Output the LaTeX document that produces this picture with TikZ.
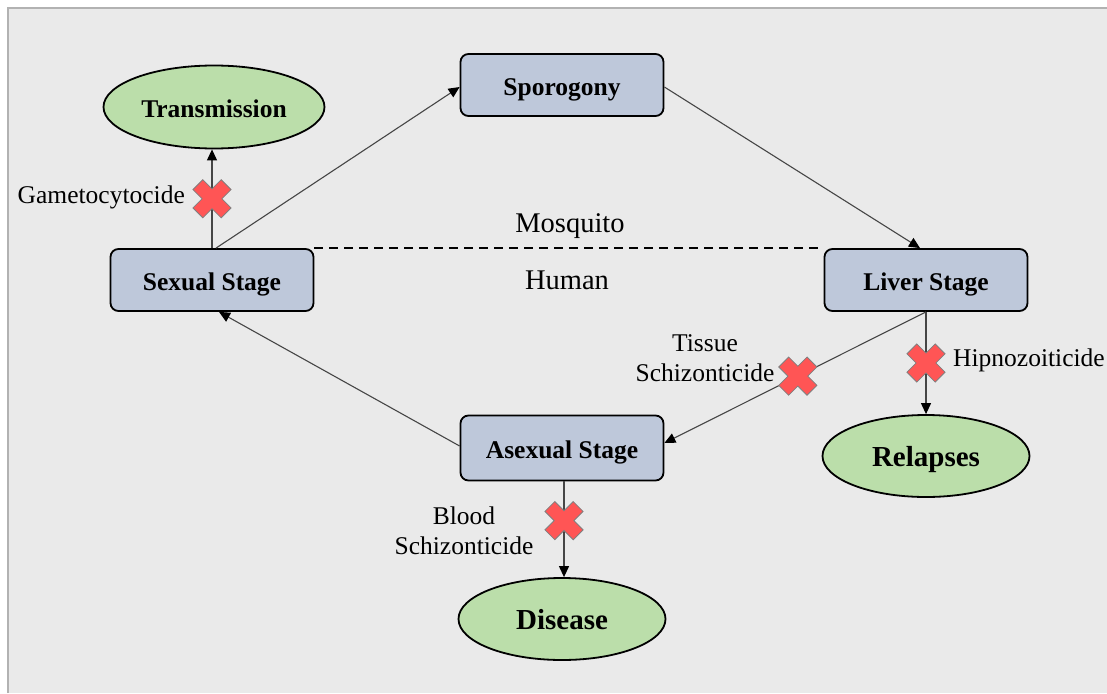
\documentclass[tikz,border=0pt]{standalone}
\usepackage{fontspec}
\setmainfont{Liberation Serif}
\usetikzlibrary{arrows.meta,shapes.geometric,calc}
\definecolor{bg}{RGB}{234,234,234}
\definecolor{boxfill}{RGB}{190,200,218}
\definecolor{ellfill}{RGB}{187,222,170}
\definecolor{xred}{RGB}{255,85,85}
\definecolor{lin}{RGB}{70,70,70}
\tikzset{
  stagebox/.style={draw=black,line width=1.8pt,rounded corners=8pt,fill=boxfill,
    minimum width=203pt,minimum height=62pt,inner sep=0pt,text height=24pt,text depth=4pt,
    font=\fontsize{25.5}{30}\selectfont\bfseries},
  outcome/.style={ellipse,draw=black,line width=1.8pt,fill=ellfill,inner sep=0pt,
    text height=25pt,text depth=4pt,
    minimum width=207pt,minimum height=82pt,font=\fontsize{29}{34}\selectfont\bfseries},
  conn/.style={draw=lin,line width=1.1pt,-{Triangle[length=11pt,width=10pt,color=black]}},
  lbl/.style={inner sep=0pt,font=\fontsize{25.5}{30}\selectfont},
  bigl/.style={inner sep=0pt,font=\fontsize{28.5}{34}\selectfont},
  xmark/.pic={\filldraw[fill=xred,draw=gray,line width=0.8pt,rotate=45]
    (7,20)--(7,7)--(20,7)--(20,-7)--(7,-7)--(7,-20)--(-7,-20)--(-7,-7)--(-20,-7)--(-20,7)--(-7,7)--(-7,20)--cycle;}
}
\begin{document}
\begin{tikzpicture}[x=1pt,y=-1pt]
\useasboundingbox (0,0) rectangle (1107,693);
\fill[bg] (8,8) rectangle (1107,693);
\draw[gray!60,line width=1.2pt] (8,693) -- (8,8) -- (1107,8);

% nodes
\node[stagebox] (sporo) at (562,85) {Sporogony};
\node[stagebox] (sexual) at (212,280) {Sexual Stage};
\node[stagebox] (liver) at (926,280) {Liver Stage};
\node[stagebox,minimum height=65pt] (asexual) at (562,448) {Asexual Stage};
\node[outcome,minimum width=221pt,minimum height=83pt,text height=23pt,text depth=3pt,font=\fontsize{25.5}{30}\selectfont\bfseries] (trans) at (214,107) {Transmission};
\node[outcome] (relapses) at (926,456) {Relapses};
\node[outcome,text height=24pt] (disease) at (562,619) {Disease};

% labels
\node[lbl,anchor=east] (gam) at (185,197) {Gametocytocide};
\node[bigl] (mosq) at (570,226) {Mosquito};
\node[bigl] (hum) at (567,280) {Human};
\node[lbl,align=center] (tis) at (705,358) {Tissue\\Schizonticide};
\node[lbl,anchor=west] (hip) at (953,360) {Hipnozoiticide};
\node[lbl,align=center] (blood) at (464,531) {Blood\\Schizonticide};

% connectors
\draw[dashed,dash pattern=on 9pt off 6pt,line width=1.5pt] (sexual.north east) -- (liver.north west);
\draw[conn] (sexual.north) -- coordinate[pos=0.5] (xg) (sexual.north |- trans.south);
\draw[conn] ([xshift=4pt]sexual.north) -- ([yshift=-2pt]sporo.west);
\draw[conn] ([yshift=-2pt]sporo.east) -- ([xshift=-6pt]liver.north);
\draw[conn] (liver.south) -- coordinate[pos=0.49] (xt) ([yshift=5pt]asexual.east);
\draw[conn] (liver.south) -- coordinate[pos=0.5] (xh) (relapses.north);
\draw[conn] ([yshift=2pt]asexual.west) -- ([xshift=7pt]sexual.south);
\draw[conn] ([xshift=2pt]asexual.south) -- coordinate[pos=0.41] (xb) ([xshift=2pt]disease.north);

% blocking marks
\pic at (xg) {xmark};
\pic at (xt) {xmark};
\pic at (xh) {xmark};
\pic at (xb) {xmark};
\end{tikzpicture}
\end{document}
